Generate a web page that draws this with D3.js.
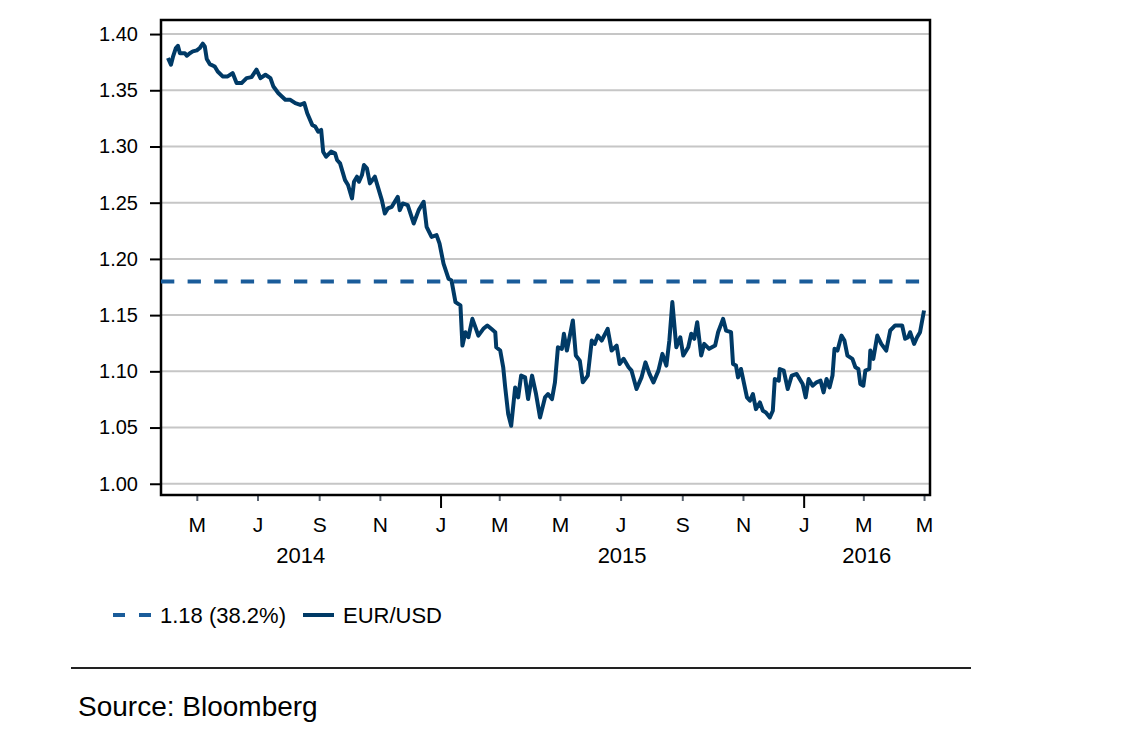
<!DOCTYPE html>
<html>
<head>
<meta charset="utf-8">
<script src="https://cdn.jsdelivr.net/npm/d3@7"></script>
<style>
  body { margin: 0; background: #fff; }
  text { font-family: "Liberation Sans", Arial, Helvetica, sans-serif; fill: #000; }
</style>
</head>
<body>
<div class="container"></div>
<script>
// EUR/USD
var dates = [
  "2014-04-02", "2014-04-05", "2014-04-07", "2014-04-10", "2014-04-12", "2014-04-14", "2014-04-19", "2014-04-21",
  "2014-04-24", "2014-04-27", "2014-05-01", "2014-05-04", "2014-05-07", "2014-05-09", "2014-05-11", "2014-05-14",
  "2014-05-19", "2014-05-22", "2014-05-27", "2014-06-01", "2014-06-06", "2014-06-10", "2014-06-15", "2014-06-20",
  "2014-06-25", "2014-06-30", "2014-07-04", "2014-07-09", "2014-07-14", "2014-07-17", "2014-07-22", "2014-07-29",
  "2014-08-03", "2014-08-08", "2014-08-13", "2014-08-17", "2014-08-20", "2014-08-25", "2014-08-28", "2014-08-31",
  "2014-09-03", "2014-09-05", "2014-09-08", "2014-09-13", "2014-09-17", "2014-09-19", "2014-09-22", "2014-09-27",
  "2014-09-30", "2014-10-04", "2014-10-06", "2014-10-09", "2014-10-11", "2014-10-14", "2014-10-16", "2014-10-19",
  "2014-10-22", "2014-10-27", "2014-10-30", "2014-11-03", "2014-11-06", "2014-11-09", "2014-11-13", "2014-11-16",
  "2014-11-19", "2014-11-21", "2014-11-24", "2014-11-29", "2014-12-05", "2014-12-10", "2014-12-15", "2014-12-18",
  "2014-12-23", "2014-12-28", "2014-12-31", "2015-01-04", "2015-01-09", "2015-01-12", "2015-01-16", "2015-01-21",
  "2015-01-23", "2015-01-26", "2015-01-29", "2015-02-02", "2015-02-05", "2015-02-08", "2015-02-13", "2015-02-17",
  "2015-02-21", "2015-02-25", "2015-02-26", "2015-03-02", "2015-03-05", "2015-03-07", "2015-03-10", "2015-03-13",
  "2015-03-17", "2015-03-20", "2015-03-23", "2015-03-27", "2015-03-30", "2015-04-03", "2015-04-07", "2015-04-11",
  "2015-04-16", "2015-04-19", "2015-04-23", "2015-04-26", "2015-04-29", "2015-05-03", "2015-05-05", "2015-05-08",
  "2015-05-14", "2015-05-17", "2015-05-21", "2015-05-24", "2015-05-29", "2015-06-02", "2015-06-05", "2015-06-08",
  "2015-06-12", "2015-06-18", "2015-06-22", "2015-06-27", "2015-06-30", "2015-07-04", "2015-07-09", "2015-07-12",
  "2015-07-17", "2015-07-22", "2015-07-26", "2015-07-30", "2015-08-03", "2015-08-08", "2015-08-12", "2015-08-16",
  "2015-08-19", "2015-08-22", "2015-08-26", "2015-08-30", "2015-09-02", "2015-09-07", "2015-09-10", "2015-09-13",
  "2015-09-16", "2015-09-20", "2015-09-23", "2015-09-28", "2015-10-04", "2015-10-07", "2015-10-12", "2015-10-15",
  "2015-10-20", "2015-10-22", "2015-10-25", "2015-10-27", "2015-10-30", "2015-11-05", "2015-11-08", "2015-11-11",
  "2015-11-14", "2015-11-18", "2015-11-21", "2015-11-24", "2015-11-28", "2015-12-01", "2015-12-03", "2015-12-07",
  "2015-12-08", "2015-12-12", "2015-12-16", "2015-12-20", "2015-12-25", "2015-12-28", "2015-12-31", "2016-01-03",
  "2016-01-06", "2016-01-10", "2016-01-14", "2016-01-18", "2016-01-21", "2016-01-24", "2016-01-27", "2016-01-30",
  "2016-02-01", "2016-02-04", "2016-02-08", "2016-02-11", "2016-02-14", "2016-02-19", "2016-02-22", "2016-02-25",
  "2016-02-27", "2016-03-01", "2016-03-03", "2016-03-07", "2016-03-08", "2016-03-11", "2016-03-15", "2016-03-19",
  "2016-03-24", "2016-03-28", "2016-04-02", "2016-04-07", "2016-04-09", "2016-04-12", "2016-04-15", "2016-04-17",
  "2016-04-21", "2016-04-24", "2016-04-27", "2016-05-01"
];
var eurusd = [
  1.3787, 1.3727, 1.3796, 1.3876, 1.3896, 1.3830, 1.3830, 1.3807,
  1.3830, 1.3846, 1.3855, 1.3876, 1.3914, 1.3890, 1.3778, 1.3733,
  1.3712, 1.3667, 1.3623, 1.3623, 1.3653, 1.3564, 1.3564, 1.3608,
  1.3617, 1.3683, 1.3608, 1.3638, 1.3608, 1.3533, 1.3474, 1.3415,
  1.3415, 1.3385, 1.3370, 1.3385, 1.3296, 1.3192, 1.3177, 1.3132,
  1.3147, 1.2954, 1.2909, 1.2954, 1.2939, 1.2880, 1.2850, 1.2701,
  1.2657, 1.2538, 1.2686, 1.2731, 1.2686, 1.2746, 1.2835, 1.2805,
  1.2672, 1.2731, 1.2641, 1.2523, 1.2404, 1.2449, 1.2463, 1.2508,
  1.2552, 1.2434, 1.2493, 1.2478, 1.2315, 1.2434, 1.2508, 1.2285,
  1.2195, 1.2211, 1.2136, 1.1958, 1.1824, 1.1809, 1.1616, 1.1586,
  1.1229, 1.1348, 1.1303, 1.1467, 1.1393, 1.1318, 1.1378, 1.1408,
  1.1378, 1.1348, 1.1214, 1.1185, 1.1036, 1.0857, 1.0620, 1.0516,
  1.0857, 1.0768, 1.0962, 1.0946, 1.0753, 1.0962, 1.0798, 1.0590,
  1.0768, 1.0798, 1.0753, 1.0902, 1.1214, 1.1200, 1.1334, 1.1185,
  1.1452, 1.1140, 1.1095, 1.0902, 1.0962, 1.1274, 1.1244, 1.1318,
  1.1274, 1.1378, 1.1185, 1.1229, 1.1066, 1.1111, 1.1036, 1.1006,
  1.0843, 1.0946, 1.1080, 1.0977, 1.0902, 1.1006, 1.1155, 1.1051,
  1.1274, 1.1616, 1.1214, 1.1303, 1.1140, 1.1214, 1.1334, 1.1289,
  1.1437, 1.1140, 1.1244, 1.1200, 1.1229, 1.1348, 1.1467, 1.1363,
  1.1348, 1.1066, 1.1051, 1.0946, 1.1021, 1.0768, 1.0739, 1.0798,
  1.0664, 1.0723, 1.0649, 1.0634, 1.0590, 1.0649, 1.0932, 1.0917,
  1.1021, 1.1006, 1.0843, 1.0962, 1.0977, 1.0932, 1.0888, 1.0768,
  1.0932, 1.0872, 1.0902, 1.0917, 1.0813, 1.0932, 1.0857, 1.0962,
  1.1200, 1.1185, 1.1318, 1.1274, 1.1140, 1.1111, 1.1036, 1.1021,
  1.0888, 1.0872, 1.1006, 1.1021, 1.1185, 1.1111, 1.1318, 1.1244,
  1.1185, 1.1363, 1.1408, 1.1408, 1.1408, 1.1289, 1.1303, 1.1348,
  1.1244, 1.1303, 1.1348, 1.1541
];
var retracement = 1.18;
var yTicks = [1.00, 1.05, 1.10, 1.15, 1.20, 1.25, 1.30, 1.35, 1.40];
var monthTicks = ["2014-05-01", "2014-07-01", "2014-09-01", "2014-11-01", "2015-01-01", "2015-03-01",
  "2015-05-01", "2015-07-01", "2015-09-01", "2015-11-01", "2016-01-01", "2016-03-01", "2016-05-01"];
var monthLabels = ["M", "J", "S", "N", "J", "M", "M", "J", "S", "N", "J", "M", "M"];
var years = ["2014", "2015", "2016"];
var legendLabels = ["1.18 (38.2%)", "EUR/USD"];

var parse = d3.timeParse("%Y-%m-%d");
var series = dates.map(function (d, i) {
  return { date: parse(d), value: eurusd[i] };
});

var width = 1142;
var height = 736;
var margin = { top: 20, right: 212, bottom: 241, left: 161 };
var innerW = width - margin.left - margin.right;
var innerH = height - margin.top - margin.bottom;

var svg = d3
  .select(".container")
  .append("svg")
  .attr("width", width)
  .attr("height", height);

var g = svg.append("g").attr("transform", `translate(${margin.left},${margin.top})`);

var x = d3
  .scaleTime()
  .domain([parse("2014-03-26"), parse("2016-05-07")])
  .range([0, innerW]);

var y = d3.scaleLinear().domain([0.99, 1.4125]).range([innerH, 0]);

// gridlines
g.selectAll("line.grid")
  .data(yTicks)
  .enter()
  .append("line")
  .attr("class", "grid")
  .attr("x1", 0)
  .attr("x2", innerW)
  .attr("y1", function (d) { return y(d); })
  .attr("y2", function (d) { return y(d); })
  .attr("stroke", "#c6c6c6")
  .attr("stroke-width", 2);

// y axis
var yAxis = g
  .append("g")
  .call(d3.axisLeft(y).tickValues(yTicks).tickSize(11).tickPadding(12).tickFormat(d3.format(".2f")));
yAxis.select(".domain").remove();
yAxis.selectAll(".tick line").attr("stroke", "#000").attr("stroke-width", 2);
yAxis.selectAll(".tick text").style("font-size", "20px").attr("fill", "#000");

// x axis: minor ticks at labelled months, longer ticks at year starts
var tickDates = monthTicks.map(parse);
var xAxis = g
  .append("g")
  .attr("transform", `translate(0,${innerH})`)
  .call(
    d3.axisBottom(x)
      .tickValues(tickDates)
      .tickSize(6)
      .tickPadding(16)
      .tickFormat(function (d, i) { return monthLabels[i]; })
  );
xAxis.select(".domain").remove();
xAxis.selectAll(".tick line")
  .attr("stroke", function (d) { return d.getMonth() === 0 ? "#000" : "#5a6470"; })
  .attr("stroke-width", 2)
  .attr("y2", function (d) { return d.getMonth() === 0 ? 13 : 6; });
xAxis.selectAll(".tick text").style("font-size", "21px").attr("fill", "#000");

// year labels centred on the visible part of each year
var xd = x.domain();
xAxis.selectAll("text.year")
  .data(years)
  .enter()
  .append("text")
  .attr("class", "year")
  .attr("text-anchor", "middle")
  .attr("y", 68)
  .style("font-size", "22px")
  .attr("x", function (d) {
    var a = new Date(+d, 0, 1);
    var b = new Date(+d + 1, 0, 1);
    if (a < xd[0]) a = xd[0];
    if (b > xd[1]) b = xd[1];
    return (x(a) + x(b)) / 2;
  })
  .text(function (d) { return d; });

// frame
g.append("rect")
  .attr("x", 0)
  .attr("y", 0)
  .attr("width", innerW)
  .attr("height", innerH)
  .attr("fill", "none")
  .attr("stroke", "#000")
  .attr("stroke-width", 2.5);

// retracement level
g.append("line")
  .attr("x1", 0)
  .attr("x2", innerW)
  .attr("y1", y(retracement))
  .attr("y2", y(retracement))
  .attr("stroke", "#1a5c9a")
  .attr("stroke-width", 4)
  .attr("stroke-dasharray", "13.3,13.3");

// EUR/USD
var line = d3
  .line()
  .x(function (d) { return x(d.date); })
  .y(function (d) { return y(d.value); });

g.append("path")
  .datum(series)
  .attr("d", line)
  .attr("fill", "none")
  .attr("stroke", "#003a66")
  .attr("stroke-width", 4)
  .attr("stroke-linejoin", "round");

// legend
var legend = svg.append("g").attr("transform", "translate(113,615)");
legend.append("line")
  .attr("x1", 0).attr("x2", 39).attr("y1", 0).attr("y2", 0)
  .attr("stroke", "#1a5c9a").attr("stroke-width", 4)
  .attr("stroke-dasharray", "12,14");
legend.append("text").attr("x", 47).attr("y", 8).style("font-size", "22px").text(legendLabels[0]);
legend.append("line")
  .attr("x1", 190).attr("x2", 221).attr("y1", 0).attr("y2", 0)
  .attr("stroke", "#003a66").attr("stroke-width", 4);
legend.append("text").attr("x", 230).attr("y", 8).style("font-size", "22px").text(legendLabels[1]);

// footer
svg.append("line")
  .attr("x1", 71).attr("x2", 971).attr("y1", 668).attr("y2", 668)
  .attr("stroke", "#222").attr("stroke-width", 2);
svg.append("text")
  .attr("x", 78).attr("y", 716)
  .style("font-size", "28px")
  .text("Source: Bloomberg");
</script>
</body>
</html>
